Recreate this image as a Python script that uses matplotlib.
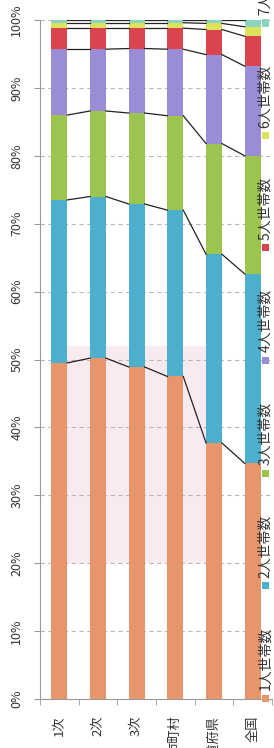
import matplotlib
matplotlib.use("Agg")
import matplotlib.pyplot as plt
from matplotlib.patches import Rectangle
import numpy as np

plt.rcParams['font.family'] = ['Noto Sans CJK JP', 'DejaVu Sans']

# categories (bottom axis of the rotated chart)
categories = ['1次', '2次', '3次', '市町村', '都道府県', '全国']
series_names = ['1人世帯数', '2人世帯数', '3人世帯数', '4人世帯数',
                '5人世帯数', '6人世帯数', '7人以上世帯数']

# share of households (%) per category, one list per household size
one_person = [49.5, 50.2, 48.9, 47.5, 37.7, 34.7]
two_person = [24.0, 23.8, 24.0, 24.5, 27.8, 27.9]
three_person = [12.5, 12.6, 13.4, 13.9, 16.3, 17.4]
four_person = [9.7, 9.1, 9.5, 9.8, 13.1, 13.2]
five_person = [3.1, 3.1, 3.0, 3.1, 3.7, 4.4]
six_person = [0.8, 0.8, 0.8, 0.8, 0.9, 1.4]
seven_plus = [0.4, 0.4, 0.4, 0.4, 0.5, 1.0]

colors = ['#E6966A', '#4CB0CC', '#9CC44E', '#9A8DD6',
          '#D9444F', '#DCE25A', '#8CD4C0']

values = np.array([one_person, two_person, three_person, four_person,
                   five_person, six_person, seven_plus])
values = values / values.sum(axis=0) * 100

fig = plt.figure(figsize=(2.74, 7.48), dpi=100)
ax = fig.add_axes([40 / 274, 49 / 748, 232 / 274, 679 / 748])

x = np.arange(len(categories))
width = 0.41

# faint pink highlight behind the chart (scan artefact)
ax.add_patch(Rectangle((0.2, 20), 3.6, 32, facecolor='#F9EAF0',
                       edgecolor='none', zorder=0))

bottom = np.zeros(len(categories))
for vals, col in zip(values, colors):
    ax.bar(x, vals, width, bottom=bottom, color=col, edgecolor='none', zorder=3)
    bottom = bottom + vals
    # series lines between bars
    for i in range(len(categories) - 1):
        ax.plot([x[i] + width / 2, x[i + 1] - width / 2],
                [bottom[i], bottom[i + 1]], color='#222222', lw=0.9, zorder=4)

ax.set_xlim(-0.5, len(categories) - 0.5)
ax.set_ylim(0, 100)

ax.set_yticks(range(0, 101, 10))
ax.set_yticklabels([f'{v}%' for v in range(0, 101, 10)], rotation=90,
                   va='center', fontsize=9, color='#333333')
ax.yaxis.grid(True, linestyle=(0, (4, 3)), color='#B8B8B8', lw=0.8)
ax.set_axisbelow(True)

ax.set_xticks(x)
ax.set_xticklabels(categories, rotation=90, fontsize=9.5, color='#333333')
ax.set_xticks(np.arange(-0.5, len(categories), 1), minor=True)
ax.tick_params(axis='x', which='major', length=0, pad=12)
ax.tick_params(axis='x', which='minor', length=4, color='#999999')
ax.tick_params(axis='y', length=4, color='#999999', pad=8)

for side in ['top', 'right']:
    ax.spines[side].set_visible(False)
for side in ['left', 'bottom']:
    ax.spines[side].set_color('#999999')
    ax.spines[side].set_linewidth(0.8)

# legend along the right edge, reading bottom to top
leg_x = 265 / 274
for k, (name, col) in enumerate(zip(series_names, colors)):
    y = (50 + k * 112.5) / 748
    fig.patches.append(Rectangle((leg_x - 3.5 / 274, y - 3.5 / 748), 7 / 274, 7 / 748,
                                 facecolor=col, edgecolor='none',
                                 transform=fig.transFigure, figure=fig))
    fig.text(leg_x, y + 8 / 748, name, rotation=90, ha='center', va='bottom',
             fontsize=10, color='#333333')

fig.savefig('out.png', dpi=100)
